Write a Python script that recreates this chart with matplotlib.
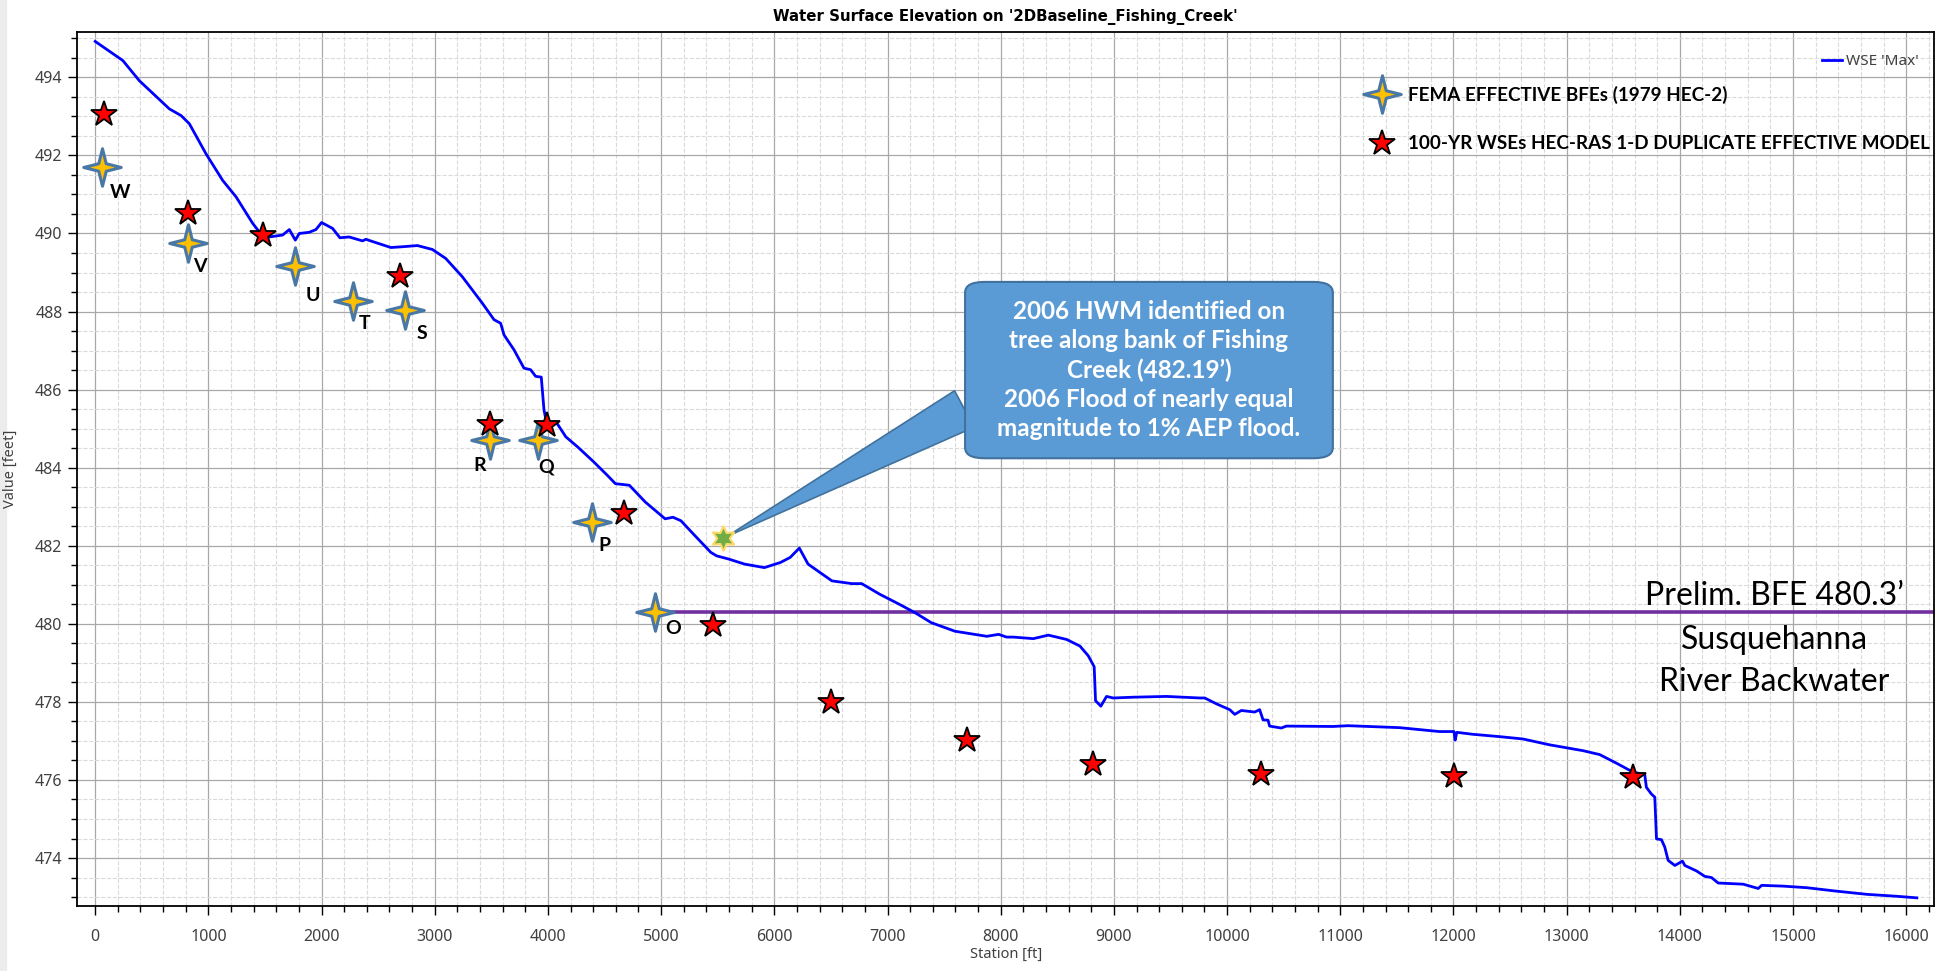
import numpy as np
import matplotlib
matplotlib.use('Agg')
import matplotlib.pyplot as plt
from matplotlib.path import Path
from matplotlib.lines import Line2D
from matplotlib.ticker import MultipleLocator
from matplotlib.patches import Rectangle

plt.rcParams['font.family'] = ['Noto Sans', 'DejaVu Sans']

# 1. DATA
station = [0, 244, 391, 656, 759, 832, 979, 1126, 1244, 1391, 1479, 1538, 1656,
           1715, 1768, 1803, 1891, 1950, 2000, 2097, 2162, 2244, 2362, 2391, 2612,
           2715, 2847, 2979, 3097, 3244, 3421, 3524, 3582, 3612, 3700, 3788, 3847,
           3891, 3941, 3965, 3989, 4070, 4158, 4263, 4404, 4526, 4596, 4719, 4860,
           5035, 5105, 5175, 5298, 5439, 5491, 5596, 5737, 5912, 6053, 6140, 6221,
           6298, 6509, 6684, 6772, 6930, 7105, 7246, 7386, 7596, 7877, 7982, 8052,
           8112, 8288, 8421, 8582, 8700, 8774, 8826, 8838, 8885, 8935, 8994, 9171,
           9465, 9759, 9803, 9906, 10024, 10068, 10126, 10244, 10288, 10318, 10362,
           10376, 10479, 10524, 10935, 11068, 11524, 11876, 12005, 12015, 12030,
           12171, 12407, 12614, 12850, 13145, 13292, 13440, 13587, 13690, 13705,
           13749, 13779, 13794, 13838, 13867, 13897, 13956, 14024, 14044, 14147,
           14221, 14280, 14339, 14501, 14560, 14693, 14723, 14914, 15121, 15357,
           15652, 15917, 16094]
wse_max = [494.92, 494.43, 493.91, 493.19, 493.02, 492.81, 492.04, 491.36, 490.94,
           490.26, 489.93, 489.91, 489.96, 490.10, 489.83, 490.00, 490.03, 490.10,
           490.28, 490.13, 489.89, 489.91, 489.81, 489.85, 489.64, 489.66, 489.69,
           489.59, 489.36, 488.89, 488.21, 487.79, 487.70, 487.40, 487.02, 486.55,
           486.51, 486.34, 486.32, 485.48, 485.13, 485.18, 484.79, 484.53, 484.15,
           483.80, 483.59, 483.55, 483.12, 482.69, 482.73, 482.64, 482.26, 481.83,
           481.74, 481.66, 481.53, 481.44, 481.57, 481.70, 481.94, 481.53, 481.10,
           481.03, 481.03, 480.76, 480.50, 480.28, 480.03, 479.81, 479.68, 479.73,
           479.66, 479.66, 479.62, 479.71, 479.60, 479.43, 479.18, 478.90, 478.03,
           477.89, 478.14, 478.10, 478.12, 478.14, 478.10, 478.10, 477.95, 477.80,
           477.68, 477.78, 477.74, 477.80, 477.54, 477.53, 477.38, 477.33, 477.38,
           477.37, 477.39, 477.34, 477.24, 477.24, 477.02, 477.22, 477.17, 477.11,
           477.05, 476.90, 476.75, 476.65, 476.43, 476.20, 476.14, 475.81, 475.64,
           475.56, 474.49, 474.47, 474.28, 473.94, 473.81, 473.92, 473.81, 473.67,
           473.53, 473.50, 473.36, 473.34, 473.33, 473.22, 473.30, 473.28, 473.24,
           473.16, 473.07, 473.02, 472.98]

bfe_labels = ['W', 'V', 'U', 'T', 'S', 'R', 'Q', 'P', 'O']
bfe_station = [59, 818, 1765, 2279, 2738, 3491, 3912, 4393, 4947]
bfe_elev = [491.70, 489.76, 489.17, 488.27, 488.03, 484.72, 484.72, 482.60, 480.30]
label_offsets = [(13, -18), (9, -17), (13, -21), (8, -16), (12, -17),
                 (-8, -19), (6, -20), (9, -17), (13, -12)]

dup_station = [82, 818, 1485, 2694, 3484, 3989, 4674, 5456, 6500, 7700, 8812,
               10297, 12009, 13590]
dup_elev = [493.06, 490.53, 489.97, 488.91, 485.13, 485.09, 482.84, 479.98,
            478.00, 477.03, 476.41, 476.16, 476.10, 476.07]

hwm_station = 5550
hwm_elev = 482.19
prelim_bfe = 480.3
prelim_start = 5070

callout = ("2006 HWM identified on\ntree along bank of Fishing\nCreek (482.19\u2019)\n"
           "2006 Flood of nearly equal\nmagnitude to 1% AEP flood.")

# 2. FIGURE SETUP
fig = plt.figure(figsize=(19.44, 9.71), dpi=100)
fig.add_artist(Rectangle((0, 0), 6 / 1944, 1, transform=fig.transFigure,
                         color='#ececec', zorder=0))
ax = fig.add_axes([0.0396, 0.0669, 0.9555, 0.9005])
ax.set_xlim(-161, 16250)
ax.set_ylim(472.77, 495.17)

ax.xaxis.set_major_locator(MultipleLocator(1000))
ax.xaxis.set_minor_locator(MultipleLocator(200))
ax.yaxis.set_major_locator(MultipleLocator(2))
ax.yaxis.set_minor_locator(MultipleLocator(0.5))
ax.grid(which='major', color='#a8a8a8', lw=0.9)
ax.grid(which='minor', color='#dadada', ls='--', lw=0.8)
ax.set_axisbelow(True)
ax.tick_params(which='major', direction='out', length=6.5, width=1,
               labelsize=11.5, labelcolor='#404040')
ax.tick_params(axis='x', which='major', pad=10)
ax.tick_params(axis='y', which='major', pad=4)
ax.tick_params(which='minor', direction='out', length=4.3, width=1)
for s in ax.spines.values():
    s.set_linewidth(1.3)

ax.set_title("Water Surface Elevation on '2DBaseline_Fishing_Creek'",
             fontsize=10.8, fontweight='bold', family='DejaVu Sans', pad=8)
ax.set_xlabel('Station [ft]', fontsize=10.5, color='#404040')
ax.set_ylabel('Value [feet]', fontsize=10.5, color='#404040')
ax.xaxis.set_label_coords(0.5, -0.047)
ax.yaxis.set_label_coords(-0.032, 0.5)

# 3. SERIES
star4 = Path([(0, 1), (0.2, 0.2), (1, 0), (0.2, -0.2), (0, -1), (-0.2, -0.2),
              (-1, 0), (-0.2, 0.2), (0, 1)], closed=True)

wse_line, = ax.plot(station, wse_max, color='#0000ff', lw=2, zorder=3,
                    label="WSE 'Max'")
ax.hlines(prelim_bfe, prelim_start, ax.get_xlim()[1], color='#7030a0', lw=2.6,
          zorder=2.5)

fema_kw = dict(ls='none', marker=star4, ms=27, mfc='#ffc000', mec='#4a78a6', mew=2.2)
dup_kw = dict(ls='none', marker='*', ms=19, mfc='#ff0000', mec='black', mew=1.3)
ax.plot(bfe_station, bfe_elev, zorder=4, **fema_kw)
ax.plot(dup_station, dup_elev, zorder=5, **dup_kw)

for lab, x, y, off in zip(bfe_labels, bfe_station, bfe_elev, label_offsets):
    ax.annotate(lab, (x, y), xytext=off, textcoords='offset points',
                ha='center', va='center', fontsize=14, fontweight='bold',
                family='Lato', zorder=6)

# callout to the 2006 high water mark
ax.annotate(callout, xy=(hwm_station, hwm_elev), xytext=(9310, 486.5),
            ha='center', va='center', multialignment='center',
            fontsize=17.5, fontweight='bold', family='Lato', color='white',
            linespacing=1.33, zorder=6,
            bbox=dict(boxstyle='round,pad=1.33,rounding_size=0.8',
                      mutation_aspect=0.55, fc='#5b9bd5', ec='#41719c', lw=1.5),
            arrowprops=dict(arrowstyle='wedge,tail_width=1.7,shrink_factor=0.5',
                            fc='#5b9bd5', ec='#41719c', lw=1.2,
                            relpos=(0.0, 0.35), shrinkA=0, shrinkB=3))
ax.plot([hwm_station], [hwm_elev], ls='none', marker=(6, 1, 0), ms=18,
        mfc='#70ad47', mec='#ffd966', mew=1.5, zorder=8)

ax.text(14836, prelim_bfe + 0.18, "Prelim. BFE 480.3\u2019", ha='center',
        va='baseline', fontsize=23, family='Lato')
ax.text(14836, prelim_bfe - 1.25, "Susquehanna\nRiver Backwater", ha='center',
        va='center', fontsize=23, family='Lato', linespacing=1.5)

# 4. LEGENDS
leg1 = ax.legend(handles=[wse_line], loc='upper right',
                 bbox_to_anchor=(0.9871, 0.9444), bbox_transform=fig.transFigure,
                 frameon=False, fontsize=11, handlelength=1.3, handletextpad=0.25,
                 borderpad=0, borderaxespad=0, labelcolor='#404040')
ax.add_artist(leg1)
fema_h = Line2D([], [], **fema_kw)
dup_h = Line2D([], [], **dup_kw)
ax.legend(handles=[fema_h, dup_h],
          labels=['FEMA EFFECTIVE BFEs (1979 HEC-2)',
                  '100-YR WSEs HEC-RAS 1-D DUPLICATE EFFECTIVE MODEL'],
          loc='upper left', bbox_to_anchor=(0.7037, 0.9114),
          bbox_transform=fig.transFigure, frameon=False,
          prop=dict(family='Lato', weight='bold', size=13.6), handlelength=1.5,
          handletextpad=0.6, labelspacing=1.65, borderpad=0, borderaxespad=0)

fig.savefig('out.png', dpi=100)
